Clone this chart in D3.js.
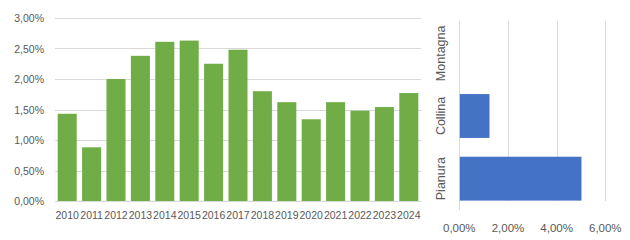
<!DOCTYPE html>
<html>
<head>
<meta charset="utf-8">
<script src="https://cdn.jsdelivr.net/npm/d3@7"></script>
<style>
  body { margin: 0; background: #fff; }
  text { font-family: "Liberation Sans", Arial, sans-serif; fill: #595959; }
</style>
</head>
<body>
<script>
var width  = 630;
var height = 240;

// annual values (left chart)
var years  = ['2010','2011','2012','2013','2014','2015','2016','2017',
              '2018','2019','2020','2021','2022','2023','2024'];
var values = [1.43, 0.88, 2.00, 2.38, 2.61, 2.63, 2.25, 2.48,
              1.80, 1.62, 1.34, 1.62, 1.48, 1.54, 1.77];
var yTicks = [0, 0.5, 1, 1.5, 2, 2.5, 3];

// by zone (right chart)
var zones     = ['Montagna', 'Collina', 'Pianura'];
var zoneVals  = [0, 1.22, 5.0];
var xTicks    = [0, 2, 4, 6];

var fmt = function(d){ return d.toFixed(2).replace('.', ',') + '%'; };

var svg = d3.select('body')
            .append('svg')
            .attr('width', width)
            .attr('height', height);

// ---- left chart ----
var x = d3.scaleBand().domain(years).range([55, 421]).paddingInner(0.22).paddingOuter(0.11);
var y = d3.scaleLinear().domain([0, 3]).range([201, 18]);

svg.append('g')
   .selectAll('line')
   .data(yTicks)
   .enter()
   .append('line')
   .attr('x1', 55).attr('x2', 421)
   .attr('y1', function(d){ return Math.round(y(d)) + 0.5; })
   .attr('y2', function(d){ return Math.round(y(d)) + 0.5; })
   .attr('stroke', '#d9d9d9');

svg.append('g')
   .selectAll('rect')
   .data(values)
   .enter()
   .append('rect')
   .attr('x', function(d, i){ return x(years[i]); })
   .attr('y', function(d){ return y(d); })
   .attr('width', x.bandwidth())
   .attr('height', function(d){ return y(0) - y(d); })
   .attr('fill', '#70ad47');

svg.append('g')
   .selectAll('text')
   .data(yTicks)
   .enter()
   .append('text')
   .text(fmt)
   .attr('x', 44)
   .attr('y', function(d){ return y(d) + 4; })
   .attr('text-anchor', 'end')
   .attr('font-size', '10.5px');

svg.append('g')
   .selectAll('text')
   .data(years)
   .enter()
   .append('text')
   .text(function(d){ return d; })
   .attr('x', function(d){ return x(d) + x.bandwidth() / 2; })
   .attr('y', 219)
   .attr('text-anchor', 'middle')
   .attr('font-size', '10.5px');

// ---- right chart ----
var xr = d3.scaleLinear().domain([0, 6]).range([459.3, 605.3]);
var yr = d3.scaleBand().domain(zones).range([22, 210]).paddingInner(0.3).paddingOuter(0.15);

svg.append('g')
   .selectAll('line')
   .data(xTicks)
   .enter()
   .append('line')
   .attr('x1', function(d){ return Math.round(xr(d)) + 0.5; })
   .attr('x2', function(d){ return Math.round(xr(d)) + 0.5; })
   .attr('y1', 21)
   .attr('y2', function(d){ return d === 0 ? 210 : 201; })
   .attr('stroke', '#d9d9d9');

svg.append('g')
   .selectAll('rect')
   .data(zoneVals)
   .enter()
   .append('rect')
   .attr('x', xr(0) + 0.5)
   .attr('y', function(d, i){ return yr(zones[i]); })
   .attr('width', function(d){ return Math.max(0, xr(d) - xr(0)); })
   .attr('height', yr.bandwidth())
   .attr('fill', '#4472c4');

svg.append('g')
   .selectAll('text')
   .data(zones)
   .enter()
   .append('text')
   .text(function(d){ return d; })
   .attr('transform', function(d){
     return 'translate(445,' + (yr(d) + yr.bandwidth() / 2) + ') rotate(-90)';
   })
   .attr('text-anchor', 'middle')
   .attr('font-size', '12.5px');

svg.append('g')
   .selectAll('text')
   .data(xTicks)
   .enter()
   .append('text')
   .text(fmt)
   .attr('x', function(d){ return xr(d); })
   .attr('y', 232)
   .attr('text-anchor', 'middle')
   .attr('font-size', '11.5px');
</script>
</body>
</html>
